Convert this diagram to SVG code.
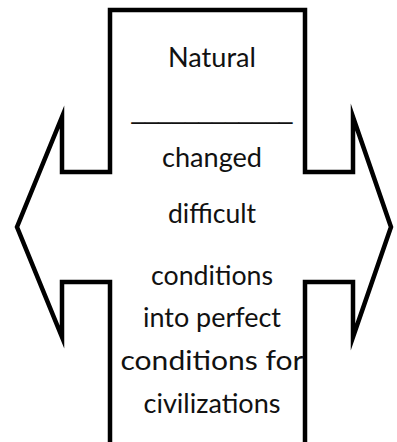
<svg xmlns="http://www.w3.org/2000/svg" width="397" height="442" viewBox="0 0 397 442">
<style>
.outline{fill:none;stroke:#000;stroke-width:4.5;stroke-linejoin:miter;stroke-miterlimit:10}
.t{font-family:Lato,"Noto Sans",sans-serif;font-size:27px;fill:#111;text-anchor:middle}
.u{font-family:"Liberation Sans",sans-serif}
</style>
<rect width="397" height="442" fill="#fff"/>
<g id="arrow-shape">
<path class="outline" d="M110,446 L110,282 L62,282 L62,337 L17,227 L62,117 L62,172 L110,172 L110,10 L305,10 L305,172 L353,172 L353,117 L391,227 L353,337 L353,282 L305,282 L305,446"/>
</g>
<g id="label">
<text class="t" x="212" y="66.5" textLength="88" lengthAdjust="spacingAndGlyphs">Natural</text>
<text class="t u" x="212" y="118" textLength="161" lengthAdjust="spacingAndGlyphs">____________</text>
<text class="t" x="212" y="166.5" textLength="100" lengthAdjust="spacingAndGlyphs">changed</text>
<text class="t" x="212" y="223" textLength="88" lengthAdjust="spacingAndGlyphs">difficult</text>
<text class="t" x="212" y="285" textLength="122" lengthAdjust="spacingAndGlyphs">conditions</text>
<text class="t" x="212" y="327" textLength="138" lengthAdjust="spacingAndGlyphs">into perfect</text>
<text class="t" x="212" y="370" textLength="183" lengthAdjust="spacingAndGlyphs">conditions for</text>
<text class="t" x="212" y="413" textLength="137" lengthAdjust="spacingAndGlyphs">civilizations</text>
</g>
</svg>
